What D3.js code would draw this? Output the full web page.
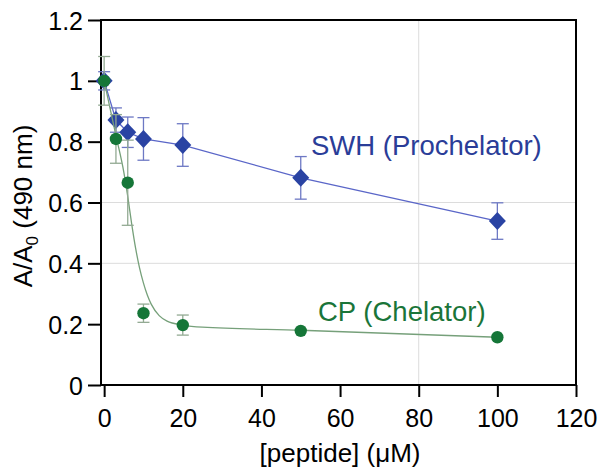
<!DOCTYPE html>
<html>
<head>
<meta charset="utf-8">
<script src="https://cdn.jsdelivr.net/npm/d3@7"></script>
<style>
  body { margin: 0; background: #fff; }
  svg { display: block; font-family: "Liberation Sans", Arial, sans-serif; }
</style>
</head>
<body>
<div id="chart"></div>
<script>
// data
const conc = [0, 3, 6, 10, 20, 50, 100];
const swh = [1.0, 0.871, 0.831, 0.809, 0.789, 0.681, 0.539];
const swhErr = [0.03, 0.04, 0.05, 0.07, 0.07, 0.07, 0.06];
const cp = [1.0, 0.809, 0.665, 0.236, 0.197, 0.178, 0.157];
const cpErr = [0.08, 0.08, 0.14, 0.03, 0.033, 0, 0];

// fitted curve for CP
const cpFitX = [0, 3, 5, 6, 7, 8, 9, 10, 11, 12, 14, 16, 20, 25, 50, 100];
const cpFitY = [1.0, 0.82, 0.70, 0.62, 0.53, 0.45, 0.385, 0.335, 0.295, 0.265, 0.228, 0.21, 0.197, 0.19, 0.18, 0.157];

const xTicks = [0, 20, 40, 60, 80, 100, 120];
const yTicks = [0, 0.2, 0.4, 0.6, 0.8, 1, 1.2];
const yTickLabels = ['0', '0.2', '0.4', '0.6', '0.8', '1', '1.2'];

const width = 600, height = 474;
const plotL = 101, plotR = 576, plotT = 20, plotB = 385;

const svg = d3.select('#chart')
    .append('svg')
    .attr('width', width)
    .attr('height', height);

const x = d3.scaleLinear().domain([-0.8, 120]).range([plotL, plotR]);
const y = d3.scaleLinear().domain([0, 1.2]).range([plotB, plotT]);

// light grid lines
svg.append('g')
    .selectAll('line')
    .data([0.4, 0.6])
    .enter()
    .append('line')
    .attr('x1', plotL).attr('x2', plotR)
    .attr('y1', d => y(d)).attr('y2', d => y(d))
    .attr('stroke', '#dcdcdc').attr('stroke-width', 1);
svg.append('line')
    .attr('x1', x(80)).attr('x2', x(80))
    .attr('y1', plotT).attr('y2', plotB)
    .attr('stroke', '#dcdcdc').attr('stroke-width', 1);

// axes
const xAxis = svg.append('g')
    .attr('transform', `translate(0,${plotB})`)
    .call(d3.axisBottom(x).tickValues(xTicks).tickSize(12).tickSizeOuter(0).tickPadding(12));
const yAxis = svg.append('g')
    .attr('transform', `translate(${plotL},0)`)
    .call(d3.axisLeft(y).tickValues(yTicks).tickFormat((d, i) => yTickLabels[i]).tickSize(13).tickSizeOuter(0).tickPadding(5));

[xAxis, yAxis].forEach(g => {
    g.select('.domain').remove();
    g.selectAll('.tick line').attr('stroke', '#000').attr('stroke-width', 2);
    g.selectAll('.tick text').attr('fill', '#000').style('font-size', '25px');
});
yAxis.selectAll('.tick text').attr('dy', '0.36em');
xAxis.selectAll('.tick text').attr('dy', '0.71em');

// frame
svg.append('rect')
    .attr('x', plotL).attr('y', plotT)
    .attr('width', plotR - plotL).attr('height', plotB - plotT)
    .attr('fill', 'none')
    .attr('stroke', '#000')
    .attr('stroke-width', 2);

// axis titles
svg.append('text')
    .attr('x', x(60)).attr('y', 462)
    .attr('text-anchor', 'middle')
    .style('font-size', '26px')
    .text('[peptide] (\u03bcM)');

const yTitle = svg.append('text')
    .attr('transform', 'translate(32,206) rotate(-90)')
    .attr('text-anchor', 'middle')
    .style('font-size', '26px');
yTitle.append('tspan').text('A/A');
yTitle.append('tspan').attr('dy', 6).style('font-size', '17px').text('0');
yTitle.append('tspan').attr('dy', -6).text(' (490 nm)');

const line = d3.line().x(d => x(d[0])).y(d => y(d[1]));

function drawSeries(vals, errs, lineData, lineColor, errColor, markColor, shape) {
    svg.append('path')
        .datum(lineData)
        .attr('fill', 'none')
        .attr('stroke', lineColor)
        .attr('stroke-width', 1.3)
        .attr('d', line);

    const pts = conc.map((c, i) => ({ x: c, y: vals[i], e: errs[i] }));
    const eb = svg.append('g')
        .attr('stroke', errColor)
        .attr('stroke-width', 1.3)
        .selectAll('g')
        .data(pts.filter(d => d.e > 0))
        .enter()
        .append('g');
    eb.append('line')
        .attr('x1', d => x(d.x)).attr('x2', d => x(d.x))
        .attr('y1', d => y(d.y - d.e)).attr('y2', d => y(d.y + d.e));
    eb.append('line')
        .attr('x1', d => x(d.x) - 6).attr('x2', d => x(d.x) + 6)
        .attr('y1', d => y(d.y + d.e)).attr('y2', d => y(d.y + d.e));
    eb.append('line')
        .attr('x1', d => x(d.x) - 6).attr('x2', d => x(d.x) + 6)
        .attr('y1', d => y(d.y - d.e)).attr('y2', d => y(d.y - d.e));

    svg.append('g')
        .selectAll('path')
        .data(pts)
        .enter()
        .append('path')
        .attr('transform', d => `translate(${x(d.x)},${y(d.y)})`)
        .attr('d', shape)
        .attr('fill', markColor);
}

const diamond = 'M0,-9L8.5,0L0,9L-8.5,0Z';
const circle = d3.symbol(d3.symbolCircle, Math.PI * 6.2 * 6.2)();

drawSeries(swh, swhErr, conc.map((c, i) => [c, swh[i]]), '#5a66c8', '#6d78c4', '#2a43a3', diamond);
line.curve(d3.curveMonotoneX);
drawSeries(cp, cpErr, cpFitX.map((c, i) => [c, cpFitY[i]]), '#76a07a', '#93aa93', '#157638', circle);

// series labels
svg.append('text')
    .attr('x', 311).attr('y', 155)
    .attr('fill', '#2a3d98')
    .style('font-size', '27.5px')
    .text('SWH (Prochelator)');
svg.append('text')
    .attr('x', 318).attr('y', 321)
    .attr('fill', '#1a7539')
    .style('font-size', '27.5px')
    .text('CP (Chelator)');
</script>
</body>
</html>
